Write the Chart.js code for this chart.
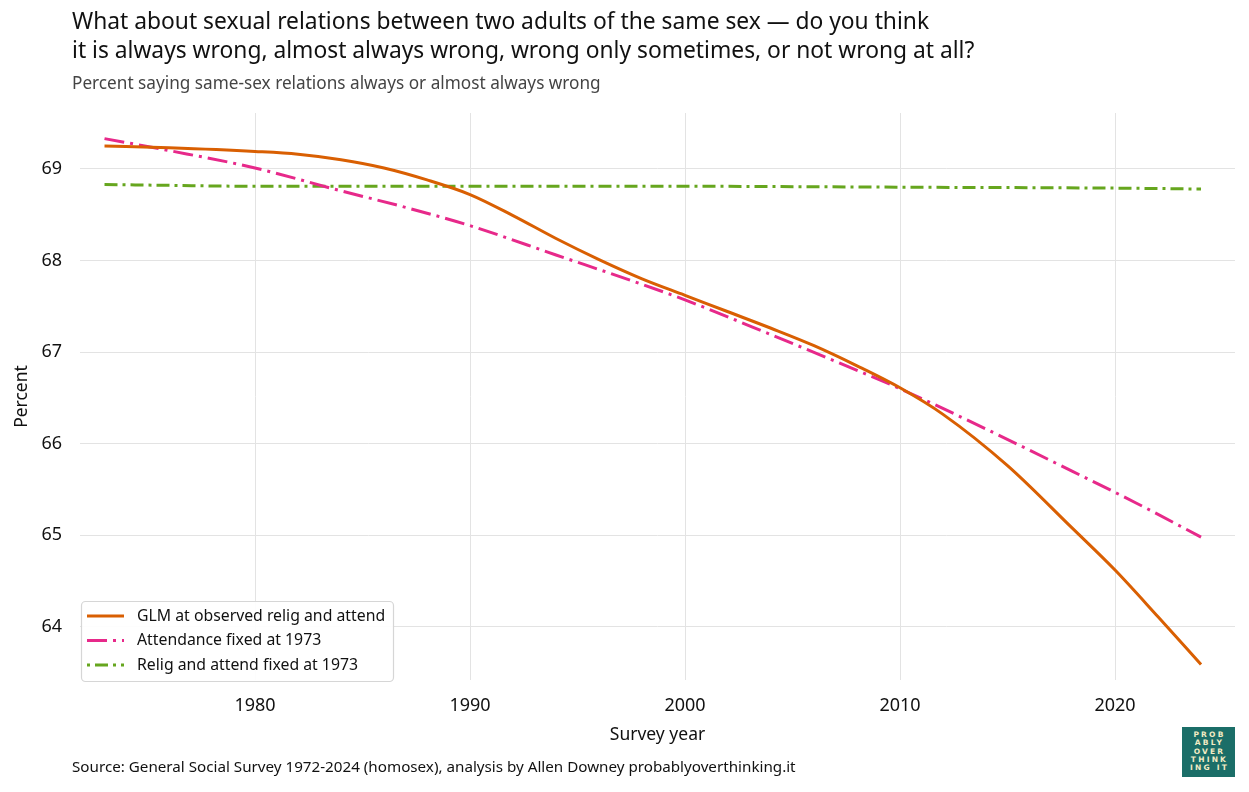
<!DOCTYPE html>
<html>
<head>
<meta charset="utf-8">
<script src="https://cdn.jsdelivr.net/npm/chart.js@4.4.1/dist/chart.umd.min.js"></script>
<style>
  html, body { margin: 0; padding: 0; background: #fff; }
  body { width: 1249px; height: 792px; position: relative; overflow: hidden; font-family: "Noto Sans", sans-serif; }
  #wrap { position: absolute; left: 0; top: 0; width: 1249px; height: 792px; }
  .title { position: absolute; left: 72px; top: 6px; font-size: 22.8px; line-height: 29px; color: #111; white-space: nowrap; }
  .subtitle { position: absolute; left: 72px; top: 71px; font-size: 17.2px; color: #444; white-space: nowrap; }
  .source { position: absolute; left: 72px; top: 756px; font-size: 15.2px; color: #111; white-space: nowrap; }
  .logo { position: absolute; left: 1182px; top: 727px; width: 53px; height: 50px; background: #1b6e68; color: #f3ecc4; font: bold 7.5px "DejaVu Sans", sans-serif; letter-spacing: 2.2px; line-height: 8.3px; text-align: center; padding-top: 4px; padding-left: 2px; box-sizing: border-box; }
</style>
</head>
<body>
<div id="wrap"><canvas id="c" width="1249" height="792"></canvas></div>
<div class="title">What about sexual relations between two adults of the same sex — do you think<br>it is always wrong, almost always wrong, wrong only sometimes, or not wrong at all?</div>
<div class="subtitle">Percent saying same-sex relations always or almost always wrong</div>
<div class="source">Source: General Social Survey 1972-2024 (homosex), analysis by Allen Downey probablyoverthinking.it</div>
<div class="logo">PROB<br>ABLY<br>OVER<br>THINK<br>ING IT</div>
<script>
// ---- data ----
const glmYears   = [1973, 1976, 1980, 1982, 1984, 1986, 1988, 1990, 1992, 1994, 1996, 1998, 2000, 2002, 2004, 2006, 2008, 2010, 2012, 2015, 2018, 2020, 2022, 2024];
const glmValues  = [69.25, 69.23, 69.19, 69.16, 69.10, 69.01, 68.88, 68.72, 68.49, 68.24, 68.01, 67.80, 67.62, 67.44, 67.26, 67.07, 66.85, 66.61, 66.32, 65.76, 65.08, 64.62, 64.11, 63.59];

const attendYears  = [1973, 1976, 1980, 1984, 1987, 1990, 1994, 1998, 2000, 2004, 2008, 2010, 2014, 2018, 2021, 2024];
const attendValues = [69.33, 69.20, 69.01, 68.76, 68.58, 68.38, 68.06, 67.74, 67.57, 67.19, 66.80, 66.60, 66.16, 65.70, 65.35, 64.98];

const religYears  = [1973, 1976, 1980, 1990, 2000, 2010, 2020, 2024];
const religValues = [68.83, 68.82, 68.81, 68.81, 68.81, 68.80, 68.79, 68.78];

const xTicks = [1980, 1990, 2000, 2010, 2020];
const yTicks = [64, 65, 66, 67, 68, 69];

const seriesLabels = ["GLM at observed relig and attend", "Attendance fixed at 1973", "Relig and attend fixed at 1973"];

const toPts = (xs, ys) => xs.map((x, i) => ({x: x, y: ys[i]}));

const FONT = "Noto Sans";

const legendPlugin = {
  id: 'boxLegend',
  afterDraw(chart) {
    const ctx = chart.ctx;
    const x0 = 81, y0 = 601, w = 312, h = 80;
    ctx.save();
    ctx.fillStyle = 'rgba(255,255,255,0.9)';
    ctx.strokeStyle = '#d6d6d6';
    ctx.lineWidth = 1.2;
    ctx.beginPath();
    if (ctx.roundRect) ctx.roundRect(x0 + 0.5, y0 + 0.5, w, h, 4); else ctx.rect(x0 + 0.5, y0 + 0.5, w, h);
    ctx.fill(); ctx.stroke();
    ctx.font = "15.8px " + FONT;
    ctx.textBaseline = 'middle';
    chart.data.datasets.forEach((ds, i) => {
      const yy = 616 + i * 24.5;
      ctx.strokeStyle = ds.borderColor;
      ctx.lineWidth = ds.borderWidth;
      ctx.setLineDash(ds.legendDash || []);
      ctx.beginPath();
      ctx.moveTo(87, yy); ctx.lineTo(124, yy);
      ctx.stroke();
      ctx.setLineDash([]);
      ctx.fillStyle = '#111';
      ctx.fillText(ds.label, 137, yy);
    });
    ctx.restore();
  }
};

new Chart(document.getElementById('c'), {
  type: 'line',
  data: {
    datasets: [
      { label: seriesLabels[0], data: toPts(glmYears, glmValues), borderColor: '#D95F02', borderWidth: 3, cubicInterpolationMode: 'monotone', pointRadius: 0, fill: false },
      { label: seriesLabels[1], data: toPts(attendYears, attendValues), borderColor: '#E7298A', borderWidth: 3, borderDash: [20, 6, 3, 6], legendDash: [20, 6, 3, 6], cubicInterpolationMode: 'monotone', pointRadius: 0, fill: false },
      { label: seriesLabels[2], data: toPts(religYears, religValues), borderColor: '#66A61E', borderWidth: 3, borderDash: [13, 5, 3, 5], legendDash: [3, 5, 13, 5], cubicInterpolationMode: 'monotone', pointRadius: 0, fill: false }
    ]
  },
  options: {
    responsive: false,
    animation: false,
    layout: { padding: { left: 0, right: 14, top: 113, bottom: 42 } },
    plugins: { legend: { display: false }, tooltip: { enabled: false } },
    scales: {
      x: {
        type: 'linear',
        min: 1971.86, max: 2025.58,
        afterBuildTicks: (s) => { s.ticks = xTicks.map(v => ({value: v})); },
        afterFit: (s) => { s.height = 70; },
        border: { display: false },
        grid: { color: '#e3e3e3', lineWidth: 1, drawTicks: false },
        ticks: { padding: 15, color: '#111', font: { family: FONT, size: 18 }, callback: (v) => String(v), maxRotation: 0 },
        title: { display: true, text: 'Survey year', color: '#111', font: { family: FONT, size: 17.5 }, padding: { top: 0, bottom: 4 } }
      },
      y: {
        min: 63.42, max: 69.61,
        afterBuildTicks: (s) => { s.ticks = yTicks.map(v => ({value: v})); },
        afterFit: (s) => { s.width = 80; },
        border: { display: false },
        grid: { color: '#e3e3e3', lineWidth: 1, drawTicks: false },
        ticks: { padding: 18, color: '#111', font: { family: FONT, size: 18 }, callback: (v) => String(v) },
        title: { display: true, text: 'Percent', color: '#111', font: { family: FONT, size: 17.5 }, padding: { top: 12, bottom: 0 } }
      }
    }
  },
  plugins: [legendPlugin]
});
</script>
</body>
</html>
